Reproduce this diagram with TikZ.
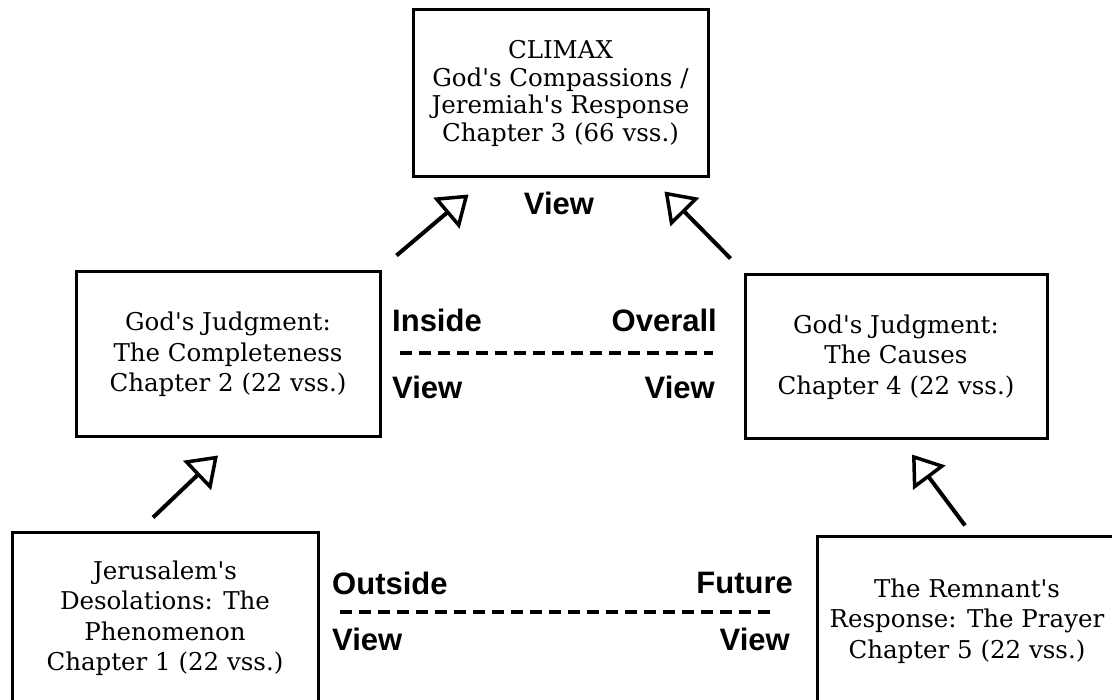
\documentclass[tikz,border=0pt]{standalone}
\usepackage{fontspec}
\newfontfamily\boxfont{DejaVu Serif}
\newfontfamily\viewfont{Liberation Sans}
\usetikzlibrary{arrows.meta,positioning}

\tikzset{
  chapter/.style={draw, line width=3pt, align=center, inner sep=0pt,
    font=\boxfont\fontsize{24.5}{30.5}\selectfont},
  view/.style={inner sep=0pt, font=\viewfont\bfseries\fontsize{31}{36}\selectfont},
  flow/.style={line width=4pt,
    -{Triangle[open, length=29pt, width=40pt, line width=3.5pt]}},
  divide/.style={line width=3.5pt, dash pattern=on 12pt off 7pt}
}

\begin{document}
\begin{tikzpicture}[x=1pt, y=-1pt]
  \useasboundingbox (0,0) rectangle (1112,700);
  \clip (0,0) rectangle (1112,700);

  % chapters
  \node (ch3) [chapter, minimum width=295pt, minimum height=167pt,
    font=\boxfont\fontsize{24.5}{27.7}\selectfont] at (560.5,93.5)
    {CLIMAX\\God's Compassions /\\Jeremiah's Response\\Chapter 3 (66 vss.)};
  \node (ch2) [chapter, minimum width=304pt, minimum height=165pt] at (228,354.5)
    {God's Judgment:\\The Completeness\\Chapter 2 (22 vss.)};
  \node (ch4) [chapter, minimum width=302pt, minimum height=164pt] at (896,357)
    {God's Judgment:\\The Causes\\Chapter 4 (22 vss.)};
  \node (ch1) [chapter, minimum width=306pt, minimum height=170pt] at (165,618)
    {Jerusalem's\\Desolations: The\\Phenomenon\\Chapter 1 (22 vss.)};
  \node (ch5) [chapter, minimum width=300pt, minimum height=168pt] at (967,621)
    {The Remnant's\\Response: The Prayer\\Chapter 5 (22 vss.)};

  % views
  \node (topview) [view] at (559,203) {View};
  \node (inside) [view, anchor=west] at (392,320) {Inside};
  \node (overall) [view, anchor=east] at (717,320) {Overall};
  \node (insideview) [view, anchor=west] at (392,387) {View};
  \node (overallview) [view, anchor=east] at (715,387) {View};
  \node (outside) [view, anchor=west] at (332,583) {Outside};
  \node (future) [view, anchor=east] at (793,583) {Future};
  \node (outsideview) [view, anchor=west] at (332,639) {View};
  \node (futureview) [view, anchor=east] at (790,639) {View};

  \coordinate (midleft) at (400,353);
  \coordinate (midright) at (713,353);
  \coordinate (lowleft) at (340,612);
  \coordinate (lowright) at (775,612);
  \draw[divide] (midleft) -- (midright);
  \draw[divide] (lowleft) -- (lowright);

  % arrows
  \draw[flow] ([shift={(-12,-14)}]ch1.north) -- ([shift={(-10,17)}]ch2.south);
  \draw[flow] ([shift={(15,-15)}]ch2.north east) -- ([shift={(57,16)}]ch3.south west);
  \draw[flow] ([shift={(-13,-15)}]ch4.north west) -- ([shift={(-45,13)}]ch3.south east);
  \draw[flow] ([shift={(-2,-10)}]ch5.north) -- ([shift={(16,14)}]ch4.south);
\end{tikzpicture}
\end{document}
